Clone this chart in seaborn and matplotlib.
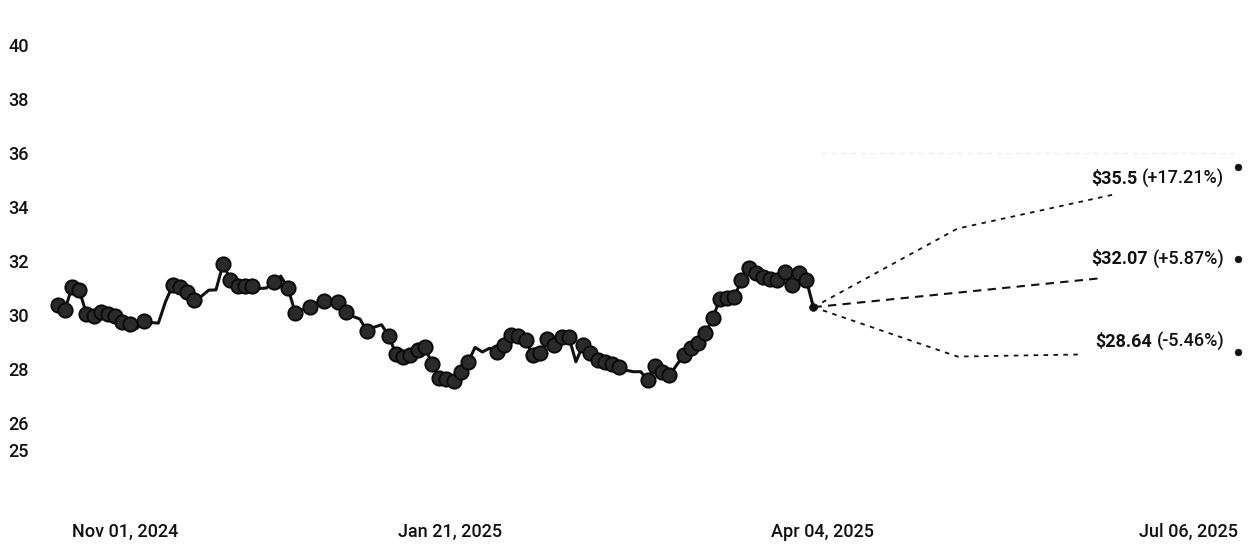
import matplotlib
matplotlib.use("Agg")
import matplotlib.pyplot as plt
import seaborn as sns

# trading-day index (0 = Nov 01, 2024) and closing prices
day_idx = list(range(-2, 104))
prices = [30.37, 30.19, 31.02, 30.93, 30.05, 29.95, 30.10, 30.05, 29.98, 29.75,
          29.65, 29.50, 29.78, 29.72, 29.70, 30.50, 31.10, 31.02, 30.85, 30.56,
          30.70, 30.92, 30.93, 31.90, 31.30, 31.06, 31.06, 31.06, 30.98, 31.00,
          31.22, 31.44, 31.00, 30.09, 30.20, 30.30, 30.45, 30.52, 30.50, 30.48,
          30.10, 29.95, 29.85, 29.39, 29.55, 29.64, 29.22, 28.56, 28.44, 28.52,
          28.70, 28.83, 28.20, 27.65, 27.62, 27.55, 27.90, 28.26, 28.80, 28.63,
          28.77, 28.63, 28.88, 29.26, 29.22, 29.07, 28.52, 28.58, 29.10, 28.89,
          29.20, 29.20, 28.27, 28.89, 28.58, 28.35, 28.27, 28.20, 28.08, 27.95,
          27.90, 27.90, 27.59, 28.11, 27.90, 27.77, 28.15, 28.52, 28.77, 28.95,
          29.32, 29.88, 30.60, 30.62, 30.66, 31.30, 31.73, 31.54, 31.42, 31.35,
          31.30, 31.60, 31.11, 31.54, 31.30, 30.29]
# days drawn without a circle marker
no_marker_days = [9, 11, 12, 13, 18, 19, 20, 26, 27, 29, 32, 34, 36, 39, 40,
                  42, 43, 56, 57, 58, 70, 77, 78, 79, 84, 103]

# forecast paths (high / mid / low)
fc_high_x = [103, 123, 144.5]
fc_high_y = [30.29, 33.2, 34.45]
fc_mid_x = [103, 143.2]
fc_mid_y = [30.29, 31.37]
fc_low_x = [103, 123, 140.4]
fc_low_y = [30.29, 28.46, 28.54]
target_day = 162
targets = [35.5, 32.07, 28.64]
target_pct = ["(+17.21%)", "(+5.87%)", "(-5.46%)"]

tick_days = [0, 52.5, 104.2, 162]
tick_labels = ["Nov 01, 2024", "Jan 21, 2025", "Apr 04, 2025", "Jul 06, 2025"]
y_ticks = [25, 26, 28, 30, 32, 34, 36, 38, 40]

sns.set_theme(style="white")
plt.rcParams["font.family"] = ["Roboto", "DejaVu Sans"]

fig = plt.figure(figsize=(12.52, 5.44), dpi=100)
ax = fig.add_axes([36 / 1252, 67 / 544, 1213 / 1252, 459 / 544])
ax.set_xlim(-5, 163.5)
ax.set_ylim(24, 41)

ink = "#111111"

# faint reference line at the top of the forecast zone
ax.plot([104, 162], [36, 36], color="#ececec", lw=1, ls=(0, (4, 3)), zorder=1)

sns.lineplot(x=day_idx, y=prices, color=ink, linewidth=2.2, ax=ax, zorder=3)

mk_x = [d for d in day_idx if d not in no_marker_days]
mk_y = [p for d, p in zip(day_idx, prices) if d not in no_marker_days]
sns.scatterplot(x=mk_x, y=mk_y, s=105, color="#2a2a2a", edgecolor="#0a0a0a",
                linewidth=1.4, ax=ax, zorder=4)
sns.scatterplot(x=[day_idx[-1]], y=[prices[-1]], s=32, color=ink,
                edgecolor=ink, ax=ax, zorder=5)

ax.plot(fc_high_x, fc_high_y, color=ink, lw=1.3, ls=(0, (2.5, 3)), zorder=2)
ax.plot(fc_mid_x, fc_mid_y, color=ink, lw=1.5, ls=(0, (4, 3)), zorder=2)
ax.plot(fc_low_x, fc_low_y, color=ink, lw=1.3, ls=(0, (2.5, 3)), zorder=2)

sns.scatterplot(x=[target_day] * 3, y=targets, s=24, color=ink, edgecolor=ink,
                ax=ax, zorder=5)

label_dy = [-9, 0, 7]
for val, pct, dy in zip(targets, target_pct, label_dy):
    t = ax.annotate(pct, xy=(target_day, val), xytext=(-10, dy),
                    textcoords="offset points", ha="right", va="center",
                    fontsize=13, fontweight="medium", color=ink)
    ax.annotate(f"${val:g}", xy=(0, 0.5), xycoords=t, xytext=(-3.5, 0),
                textcoords="offset points", ha="right", va="center",
                fontsize=13, fontweight="bold", color=ink)

ax.set_yticks(y_ticks)
ax.set_yticklabels([str(v) for v in y_ticks], fontweight="medium")
ax.set_xticks(tick_days)
ax.set_xticklabels(tick_labels, fontweight="medium")
xl = ax.get_xticklabels()
xl[0].set_ha("left")
xl[-1].set_ha("right")
ax.tick_params(axis="y", length=0, pad=5, labelsize=13, labelcolor=ink)
ax.tick_params(axis="x", length=0, pad=33, labelsize=13, labelcolor=ink)
for s in ax.spines.values():
    s.set_visible(False)
ax.grid(False)
ax.set_xlabel("")
ax.set_ylabel("")

fig.savefig("out.png", dpi=100)
